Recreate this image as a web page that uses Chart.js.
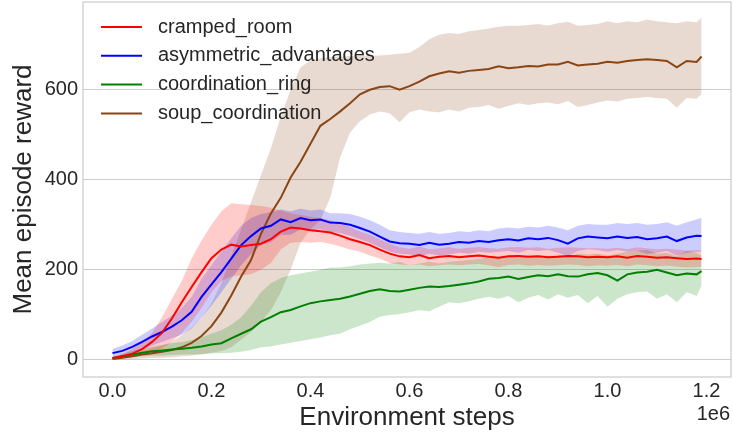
<!DOCTYPE html>
<html>
<head>
<meta charset="utf-8">
<script src="https://cdn.jsdelivr.net/npm/chart.js@4"></script>
<style>
html,body{margin:0;padding:0;background:#fff;}
#wrap{width:733px;height:434px;}
</style>
</head>
<body>
<div id="wrap"><canvas id="chart" width="733" height="434"></canvas></div>
<script>
// Daten (Umgebungsschritte, Mittelwert und Band je Layout)
const steps = [0,20000,40000,60000,80000,100000,120000,140000,160000,180000,
  200000,220000,240000,260000,280000,300000,320000,340000,360000,380000,
  400000,420000,440000,460000,480000,500000,520000,540000,560000,580000,
  600000,620000,640000,660000,680000,700000,720000,740000,760000,780000,
  800000,820000,840000,860000,880000,900000,920000,940000,960000,980000,
  1000000,1020000,1040000,1060000,1080000,1100000,1120000,1140000,1160000,1180000,
  1190000];

const xTicks = [0,200000,400000,600000,800000,1000000,1200000];
const yTicks = [0,200,400,600];

const seriesNames = ["cramped_room","asymmetric_advantages","coordination_ring","soup_coordination"];
const seriesColors = ["#ff0000","#0000ff","#008000","#8b4513"];
const bandColors = ["rgba(255,0,0,0.2)","rgba(0,0,255,0.2)","rgba(0,128,0,0.2)","rgba(139,69,19,0.2)"];

const crampedMean = [4,8,14,24,40,60,92,128,162,195, 226,245,256,252,255,258,268,285,294,292,
  288,286,283,276,268,262,255,245,236,230, 228,233,226,229,231,228,230,232,229,227,
  230,231,229,230,228,229,231,230,228,229, 228,230,227,231,229,227,228,226,224,225, 224];
const crampedLo = [2,4,8,12,18,26,40,60,85,115, 150,175,185,188,190,200,215,245,260,262,
  260,262,258,252,245,240,232,225,215,212, 210,212,208,210,212,210,212,213,210,206,
  211,212,209,211,209,210,212,211,208,210, 209,211,208,212,210,208,209,207,205,206, 207];
const crampedHi = [6,13,24,40,60,95,135,175,225,265, 300,330,348,346,344,342,338,332,326,322,
  318,315,310,302,295,285,278,268,258,250, 247,252,246,248,250,247,249,251,248,247,
  250,251,249,250,247,249,250,249,248,248, 247,249,246,250,248,246,247,245,243,244, 243];

const asymMean = [15,20,29,40,52,62,74,88,107,140, 168,195,225,255,275,292,298,312,306,315,
  310,312,305,304,300,293,285,274,263,259, 258,255,260,256,258,262,260,264,262,266,
  268,265,270,268,271,266,258,270,274,272, 270,274,271,273,268,270,274,264,272,276, 275];
const asymLo = [8,10,16,24,32,40,48,56,70,95, 120,150,180,210,235,255,262,278,278,290,
  288,290,284,282,276,268,260,250,240,236, 234,230,236,232,234,238,236,240,238,240,
  242,238,244,242,244,238,230,242,246,244, 240,244,240,242,236,238,242,232,238,240, 240];
const asymHi = [24,32,42,56,70,84,98,115,140,180, 210,240,270,298,315,324,328,334,330,336,
  332,334,326,326,324,318,310,300,288,284, 282,280,284,280,282,286,284,288,286,292,
  294,292,296,294,298,294,288,298,302,300, 300,304,302,304,300,302,306,298,306,312, 316];

const ringMean = [4,8,12,16,19,21,23,25,27,30, 34,37,48,58,68,85,95,106,111,119,
  126,130,133,136,141,147,153,157,153,152, 156,160,163,162,164,167,170,174,180,182,
  185,180,184,188,186,190,186,185,190,193, 188,176,190,194,196,200,194,188,192,190, 197];
const ringLo = [2,4,6,8,9,10,11,12,12,13, 14,15,16,18,22,28,30,34,38,42,
  46,50,55,58,68,76,84,96,100,102, 106,110,108,118,128,126,130,136,140,136,
  142,128,138,144,134,146,138,144,126,142, 118,136,146,150,152,136,146,128,150,142, 165];
const ringHi = [7,13,20,26,30,33,37,40,44,50, 58,66,78,95,120,150,170,182,188,192,
  196,200,205,205,208,212,214,216,214,218, 210,214,218,214,218,220,222,224,228,226,
  230,226,232,232,228,234,230,236,234,236, 232,236,240,242,244,236,238,230,242,238, 232];

const soupMean = [2,5,8,12,15,18,22,28,38,53, 75,105,143,185,222,280,325,360,405,440,
  480,520,535,552,570,590,600,606,608,600, 608,618,630,636,641,638,642,644,646,652,
  648,650,653,652,656,656,662,654,656,658, 662,660,664,666,668,666,664,650,664,662, 674];
const soupLo = [0,1,2,3,4,5,6,8,10,12, 16,20,28,45,62,85,110,150,200,260,
  290,310,360,450,505,530,545,552,548,528, 550,556,552,550,556,552,560,562,566,558,
  564,570,566,570,572,568,575,562,566,572, 576,574,580,582,584,582,580,560,582,580, 590];
const soupHi = [4,9,14,20,26,32,40,55,72,95, 125,170,230,290,350,410,470,540,600,650,
  665,670,672,674,675,676,676,676,678,680, 682,695,712,722,726,724,730,733,736,740,
  742,742,744,746,743,748,751,742,744,746, 752,748,752,750,756,752,750,748,752,750, 760];

const means = [crampedMean, asymMean, ringMean, soupMean];
const lows = [crampedLo, asymLo, ringLo, soupLo];
const highs = [crampedHi, asymHi, ringHi, soupHi];

const FONT = "'Liberation Sans', Arial, Helvetica, sans-serif";
const TEXT = "#262626";

function pts(arr){
    return arr.map((v,i) => ({x: steps[i], y: v}));
}

// Linie + Band (untere Kante, obere Kante mit Füllung zur vorigen)
const datasets = [];
seriesNames.forEach((name, s) => {
    datasets.push({label: name, data: pts(means[s]), borderColor: seriesColors[s], borderWidth: 2,
        pointRadius: 0, fill: false, tension: 0});
    datasets.push({label: name + "_lo", data: pts(lows[s]), borderColor: "rgba(0,0,0,0)", borderWidth: 0,
        pointRadius: 0, fill: false});
    datasets.push({label: name + "_hi", data: pts(highs[s]), borderColor: "rgba(0,0,0,0)", borderWidth: 0,
        pointRadius: 0, fill: "-1", backgroundColor: bandColors[s]});
});

// Rahmen, Legende und Exponent
const decor = {
    id: "decor",
    afterDraw(chart){
        const {ctx, chartArea: a} = chart;
        ctx.save();
        ctx.strokeStyle = "#cccccc";
        ctx.lineWidth = 1.25;
        ctx.strokeRect(a.left, a.top, a.right - a.left, a.bottom - a.top);

        ctx.font = "20px " + FONT;
        ctx.textBaseline = "middle";
        ctx.textAlign = "left";
        seriesNames.forEach((name, s) => {
            const y = 27 + s * 28.8;
            ctx.strokeStyle = seriesColors[s];
            ctx.lineWidth = 2;
            ctx.beginPath();
            ctx.moveTo(101, y);
            ctx.lineTo(142, y);
            ctx.stroke();
            ctx.fillStyle = TEXT;
            ctx.fillText(name, 158, y);
        });

        ctx.textAlign = "right";
        ctx.fillText("1e6", 730, 414);
        ctx.restore();
    }
};

new Chart(document.getElementById("chart"), {
    type: "line",
    data: {datasets},
    plugins: [decor],
    options: {
        responsive: false,
        animation: false,
        devicePixelRatio: 1,
        layout: {padding: {top: 2, right: 2, left: 0, bottom: 0}},
        plugins: {
            legend: {display: false},
            tooltip: {enabled: false},
            filler: {drawTime: "beforeDatasetsDraw"}
        },
        scales: {
            x: {
                type: "linear",
                min: -59500,
                max: 1249500,
                afterBuildTicks: s => { s.ticks = xTicks.map(v => ({value: v})); },
                afterFit: s => { s.height = 57; s.paddingLeft = 0; s.paddingRight = 0; },
                grid: {display: false, drawTicks: false},
                border: {display: false},
                ticks: {font: {family: FONT, size: 20}, color: TEXT, padding: 2, maxRotation: 0, autoSkip: false,
                    callback: v => (v / 1e6).toFixed(1)},
                title: {display: true, text: "Environment steps", color: TEXT,
                    font: {family: FONT, size: 26, lineHeight: 1}, padding: {top: 0, bottom: 3.5}}
            },
            y: {
                type: "linear",
                min: -38,
                max: 795,
                afterBuildTicks: s => { s.ticks = yTicks.map(v => ({value: v})); },
                afterFit: s => { s.width = 83; s.paddingTop = 0; s.paddingBottom = 0; },
                grid: {color: "#cccccc", lineWidth: 1, drawTicks: false},
                border: {display: false},
                ticks: {font: {family: FONT, size: 20}, color: TEXT, padding: 5, autoSkip: false},
                title: {display: true, text: "Mean episode reward", color: TEXT,
                    font: {family: FONT, size: 26, lineHeight: 1}, padding: {top: 10.5, bottom: 0}}
            }
        }
    }
});
</script>
</body>
</html>
